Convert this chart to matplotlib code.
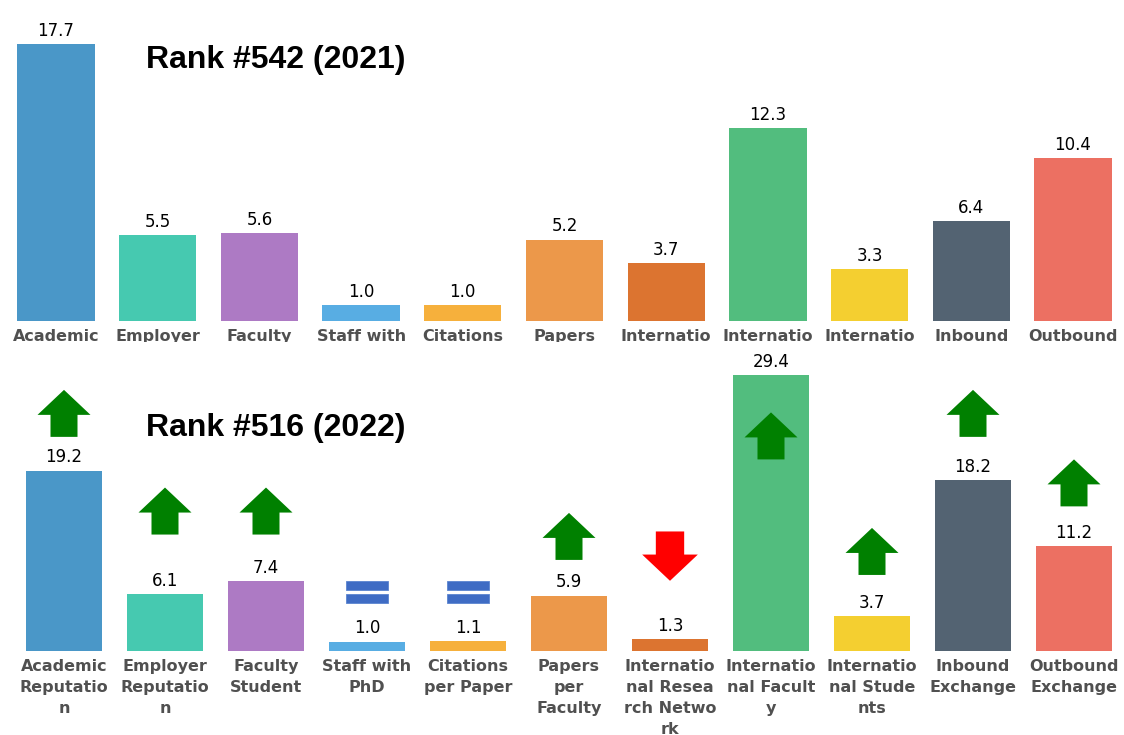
import matplotlib
matplotlib.use("Agg")
import matplotlib.pyplot as plt
from matplotlib.patches import Polygon, Rectangle
from matplotlib.transforms import ScaledTranslation

# Indicator names as they appear under the bars (wrapped to fit each column)
tick_labels = [
    "Academic\nReputatio\nn",
    "Employer\nReputatio\nn",
    "Faculty\nStudent",
    "Staff with\nPhD",
    "Citations\nper Paper",
    "Papers\nper\nFaculty",
    "Internatio\nnal Resea\nrch Netwo\nrk",
    "Internatio\nnal Facult\ny",
    "Internatio\nnal Stude\nnts",
    "Inbound\nExchange",
    "Outbound\nExchange",
]

scores_2021 = [17.7, 5.5, 5.6, 1.0, 1.0, 5.2, 3.7, 12.3, 3.3, 6.4, 10.4]
scores_2022 = [19.2, 6.1, 7.4, 1.0, 1.1, 5.9, 1.3, 29.4, 3.7, 18.2, 11.2]

# Year-on-year trend marker for each indicator and the height (in 2022 score
# units) at which its marker is centred
trend = ["up", "up", "up", "same", "same", "up", "down", "up", "up", "up", "up"]
marker_level = [25.3, 14.9, 14.9, 6.3, 6.3, 12.2, 10.1, 22.9, 10.6, 25.3, 17.9]

bar_colors = [
    "#4a97c8", "#46c9b0", "#ad7ac4", "#58ade3", "#f6b03c", "#ec984a",
    "#dc7430", "#52bd7e", "#f4cf30", "#536372", "#ec7062",
]

title_2021 = "Rank #542 (2021)"
title_2022 = "Rank #516 (2022)"

fig = plt.figure(figsize=(11.24, 7.35), dpi=100)
fig.patch.set_facecolor("white")

W, H = 1124.0, 735.0
x = list(range(len(scores_2021)))


def style_axes(ax):
    for s in ax.spines.values():
        s.set_visible(False)
    ax.set_yticks([])
    ax.tick_params(axis="x", length=0, pad=5.5)
    ax.set_xticks(x)
    ax.set_xticklabels(tick_labels, fontsize=11.5, fontweight="bold",
                       color="#505050", linespacing=1.5)


# 2021 panel (its labels are partly hidden by the 2022 panel below)
ax1 = fig.add_axes([0.0, 414 / H, 1.0, 321 / H])
ax1.set_zorder(0)
bars1 = ax1.bar(x, scores_2021, width=0.76, color=bar_colors)
ax1.set_xlim(-56 / 101.7, 10 + 51 / 101.7)
ax1.set_ylim(0, max(scores_2021) * 1.158)
style_axes(ax1)
ax1.bar_label(bars1, fmt="%.1f", padding=3, fontsize=12, color="black")

# 2022 panel
ax2 = fig.add_axes([0.0, 84 / H, 1.0, 309 / H])
ax2.set_zorder(1)
ax2.set_facecolor("white")
bars2 = ax2.bar(x, scores_2022, width=0.75, color=bar_colors)
ax2.set_xlim(-64 / 101.0, 10 + 50 / 101.0)
ax2.set_ylim(0, max(scores_2022) * 1.119)
style_axes(ax2)
ax2.bar_label(bars2, fmt="%.1f", padding=3, fontsize=12, color="black")

# Trend markers, shaped in inches and anchored at data positions
up_arrow = [(-0.135, -0.235), (0.135, -0.235), (0.135, -0.015),
            (0.265, -0.015), (0.0, 0.235), (-0.265, -0.015),
            (-0.135, -0.015)]
down_arrow = [(vx * 1.05, -vy * 1.05) for vx, vy in up_arrow]

for xi, kind, level in zip(x, trend, marker_level):
    tr = fig.dpi_scale_trans + ScaledTranslation(xi, level, ax2.transData)
    if kind == "up":
        ax2.add_patch(Polygon(up_arrow, closed=True, facecolor="#008000",
                              edgecolor="none", transform=tr, clip_on=False))
    elif kind == "down":
        ax2.add_patch(Polygon(down_arrow, closed=True, facecolor="#ff0000",
                              edgecolor="none", transform=tr, clip_on=False))
    else:
        for y0 in (0.02, -0.11):
            ax2.add_patch(Rectangle((-0.21, y0), 0.42, 0.09,
                                    facecolor="#3f6cc4", edgecolor="#5b84d0",
                                    linewidth=0.6, transform=tr,
                                    clip_on=False))

fig.text(146 / W, 1 - 60 / H, title_2021, fontsize=23, fontweight="bold",
         family="Liberation Sans", ha="left", va="center", color="black")
fig.text(146 / W, 1 - 428 / H, title_2022, fontsize=23, fontweight="bold",
         family="Liberation Sans", ha="left", va="center", color="black")

fig.savefig("out.png", dpi=100, facecolor="white")
